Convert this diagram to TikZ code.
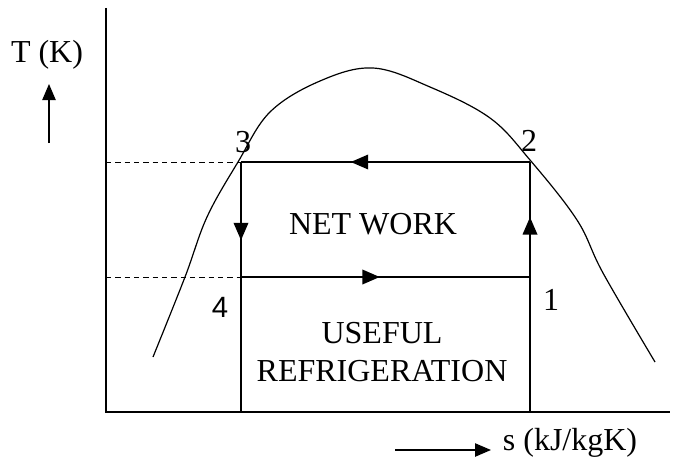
\documentclass[tikz,border=0pt]{standalone}
\usepackage{fontspec}
\setmainfont{Liberation Serif}
\setsansfont{Liberation Sans}
\usetikzlibrary{arrows.meta, decorations.markings}

\begin{document}
\begin{tikzpicture}[x=0.75pt, y=-0.75pt,
        axis/.style={line width=1.3pt},
        cyc/.style={line width=1pt},
        dome/.style={line width=0.9pt},
        guide/.style={dashed, line width=0.6pt, dash pattern=on 4pt off 3pt},
        tip/.style={-{Triangle[length=12pt,width=10pt]}, line width=1pt},
        midarr/.style={postaction={decorate}, decoration={markings,
                  mark=at position #1 with {\arrow{Triangle[length=13pt,width=11pt]}}}},
        lab/.style={font=\fontsize{24}{28}\selectfont, inner sep=0pt, align=center}]
      \useasboundingbox (0,0) rectangle (673,460);
      % axes
      \coordinate (o) at (106,412);
      \coordinate (ytop) at (106,8);
      \coordinate (xend) at (670,412);
      \draw[axis] (ytop) -- (o) -- (xend);
      % cycle corners
      \coordinate (c1) at (530,277);
      \coordinate (c2) at (530,162);
      \coordinate (c3) at (241,162);
      \coordinate (c4) at (241,277);
      \coordinate (b1) at (530,412);
      \coordinate (b4) at (241,412);
      \coordinate (d3) at (106,162);
      \coordinate (d4) at (106,277);
      % saturation dome
      \draw[dome] plot[smooth, tension=0.6] coordinates {(153,357) (185,277) (207,217)
            (238,162) (270,112) (320,81) (373,68) (430,87) (490,118) (530,160)
            (577,220) (603,273) (655,362)};
      % dashed levels
      \draw[guide] (d3) -- (c3);
      \draw[guide] (d4) -- (c4);
      % cycle
      \draw[cyc, midarr=0.62] (c2) -- (c3);
      \draw[cyc, midarr=0.68] (c3) -- (c4);
      \draw[cyc, midarr=0.48] (c4) -- (c1);
      \draw[cyc, midarr=0.52] (c1) -- (c2);
      \draw[cyc] (c4) -- (b4);
      \draw[cyc] (c1) -- (b1);
      % labels
      \node[lab] (n3) at (243,142) {3};
      \node[lab] (n2) at (529,141) {2};
      \node[lab, font=\fontsize{22}{26}\selectfont\sffamily] (n4) at (220,307) {4};
      \node[lab] (n1) at (551,300) {1};
      \node[lab] (net) at (373,224) {NET WORK};
      \node[lab] (use) at (382,352) {USEFUL\\REFRIGERATION};
      \node[lab] (tk) at (47,55) {T (K)};
      \node[lab] (sk) at (570,443) {s (kJ/kgK)};
      \coordinate (ta) at (49,143);
      \coordinate (tb) at (49,84);
      \draw[tip] (ta) -- (tb);
      \coordinate (sa) at (395,450);
      \coordinate (sb) at (491,450);
      \draw[tip] (sa) -- (sb);
    \end{tikzpicture}
\end{document}
